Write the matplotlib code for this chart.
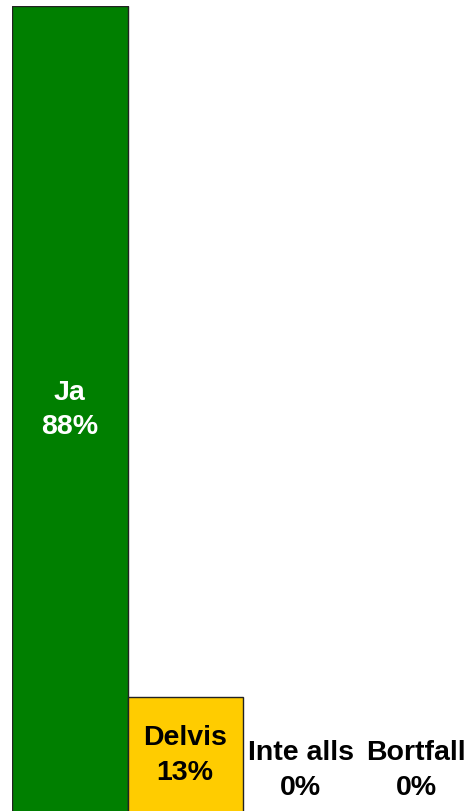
import matplotlib
matplotlib.use("Agg")
import matplotlib.pyplot as plt

categories = ["Ja", "Delvis", "Inte alls", "Bortfall"]
values = [87.5, 12.5, 0.0, 0.0]
pct_labels = ["88%", "13%", "0%", "0%"]
colors = ["#007F00", "#FFCC00", "#FFFFFF", "#FFFFFF"]
text_colors = ["white", "black", "black", "black"]

W, H = 469, 812
fig = plt.figure(figsize=(W / 100, H / 100), dpi=100)
x0, x1 = 12, 474
ytop, ybot = 7, 813
ax = fig.add_axes([x0 / W, (H - ybot) / H, (x1 - x0) / W, (ybot - ytop) / H])
ax.set_xlim(-0.5, 3.5)
ax.set_ylim(0, 87.5)
ax.axis("off")

xs = list(range(len(categories)))
for x, v, c in zip(xs, values, colors):
    if v > 0:
        ax.bar(x, v, width=1.0, color=c, edgecolor="#222222", linewidth=1.0, zorder=2)

for x, v, cat, lab, tc in zip(xs, values, categories, pct_labels, text_colors):
    y = v / 2 if v > 0 else 4.6
    ax.text(x, y, f"{cat}\n{lab}", ha="center", va="center", color=tc,
            fontsize=20.5, fontweight="bold", family="Liberation Sans",
            linespacing=1.45, zorder=3)

fig.savefig("out.png", dpi=100)
